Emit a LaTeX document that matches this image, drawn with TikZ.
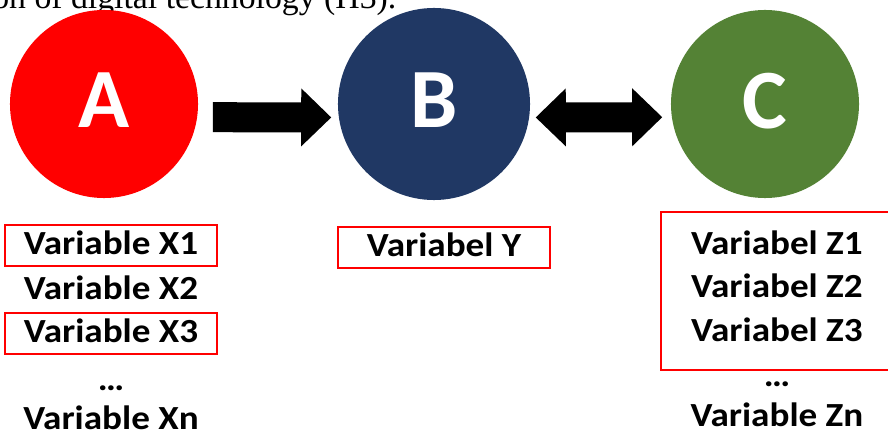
\documentclass[tikz,border=0pt]{standalone}
\usepackage{fontspec}
\setmainfont{Carlito}
\newfontfamily\notefont{Liberation Serif}
\newfontfamily\varfont[FakeStretch=1.1]{Carlito}
\usepackage{tikz}
\usetikzlibrary{positioning,fit,arrows.meta}
\definecolor{ared}{HTML}{FF0000}
\definecolor{bnavy}{HTML}{203864}
\definecolor{cgreen}{HTML}{548235}

\begin{document}
\begin{tikzpicture}[x=0.025cm, y=-0.025cm, line width=1pt,
    ball/.style={circle, minimum size=4.7cm, inner sep=0pt, text=white,
        text depth=0.175cm, font=\fontsize{60}{60}\selectfont\bfseries},
    var/.style={anchor=base, inner sep=0pt, text height=17pt, text depth=3.5pt,
        font=\varfont\fontsize{24}{24}\selectfont\bfseries},
    redbox/.style={draw=ared, line width=1.5pt, minimum width=5.3cm, minimum height=1.025cm},
    block/.style={line width=0.75cm},
    tip/.tip={Triangle[length=0.75cm, width=1.45cm, line width=0pt]}]
    \useasboundingbox (0,0) rectangle (888,438);

    % caption line running off the top
    \node[font=\notefont\fontsize{24}{24}\selectfont, anchor=base east, inner sep=0pt] (note) at (397,9) {on of digital technology (H3).};

    \node[ball, fill=ared] (A) at (104,104) {A};
    \node[ball, fill=bnavy, minimum size=4.8cm] (B) at (434,104) {B};
    \node[ball, fill=cgreen] (C) at (765,104) {C};

    \draw[block, -tip, shorten <=0.375cm, shorten >=0.175cm] (A.-8) -- (B.188);
    \draw[block, tip-tip, shorten <=0.15cm, shorten >=0.225cm] (B.-8) -- (C.188);

    % variables under A
    \node[var, redbox] (x1) at (111,255) {Variable X1};
    \node[var] (x2) at (111,300) {Variable X2};
    \node[var, redbox] (x3) at (111,343) {Variable X3};
    \node[var] (xdots) at (111,391) {…};
    \node[var] (xn) at (111,430) {Variable Xn};

    % variable under B
    \node[var, redbox] (y) at (444,257) {Variabel Y};

    % variables under C
    \node[var] (z1) at (777,255) {Variabel Z1};
    \node[var] (z2) at (777,298) {Variabel Z2};
    \node[var] (z3) at (777,342) {Variabel Z3};
    \node[var] (zdots) at (777,387) {…};
    \node[var] (zn) at (777,427) {Variable Zn};
    \node[draw=ared, line width=1.5pt, inner sep=0pt, fit={(661,212) (895,370)}] (zbox) {};
\end{tikzpicture}
\end{document}
